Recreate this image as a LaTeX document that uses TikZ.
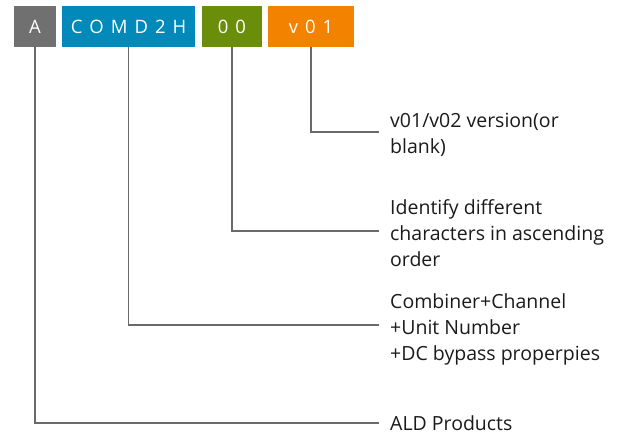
\documentclass[tikz,border=0pt]{standalone}
\usepackage{fontspec}
\setmainfont{Open Sans}
\definecolor{tagGray}{HTML}{707070}
\definecolor{tagBlue}{HTML}{0189B9}
\definecolor{tagGreen}{HTML}{6B8E0A}
\definecolor{tagOrange}{HTML}{F28200}
\definecolor{leadGray}{HTML}{6A6A6A}
\definecolor{labelText}{HTML}{1A1A1A}
\begin{document}
\begin{tikzpicture}[x=1pt,y=-1pt,
  tag/.style={minimum height=41pt, inner sep=0pt, text=white,
    font=\fontsize{18.5}{20}\selectfont},
  lead/.style={draw=leadGray, line width=1.4pt},
  label/.style={anchor=west, align=left, inner sep=0pt, text=labelText,
    font=\fontsize{19.5}{26}\selectfont}]
  \useasboundingbox (0,0) rectangle (625,434);

  % code segments
  \node[tag, fill=tagGray,   minimum width=42pt]  (a)   at (35,26.5)    {A};
  \node[tag, fill=tagBlue,   minimum width=133pt] (com) at (128.5,26.5) {C\hspace{7pt}O\hspace{7pt}M\hspace{7pt}D\hspace{7pt}2\hspace{7pt}H};
  \node[tag, fill=tagGreen,  minimum width=60pt]  (nn)  at (232,26.5)   {0\hspace{7pt}0};
  \node[tag, fill=tagOrange, minimum width=86pt]  (ver) at (311,26.5)   {v\hspace{7pt}0\hspace{7pt}1};

  % leader ends
  \coordinate (eVer) at (379,132);
  \coordinate (eNn)  at (379,231);
  \coordinate (eCom) at (379,325);
  \coordinate (eA)   at (379,423);

  % descriptions
  \node[label] (lVer) at (390,135) {v01/v02 version(or\\blank)};
  \node[label] (lNn)  at (390,233) {Identify different\\characters in ascending\\order};
  \node[label] (lCom) at (390,329) {Combiner+Channel\\+Unit Number\\+DC bypass properpies};
  \node[label] (lA)   at (390,423) {ALD Products};

  % leaders
  \draw[lead] (ver.south) |- (eVer);
  \draw[lead] (nn.south)  |- (eNn);
  \draw[lead] (com.south) |- (eCom);
  \draw[lead] (a.south)   |- (eA);
\end{tikzpicture}
\end{document}
